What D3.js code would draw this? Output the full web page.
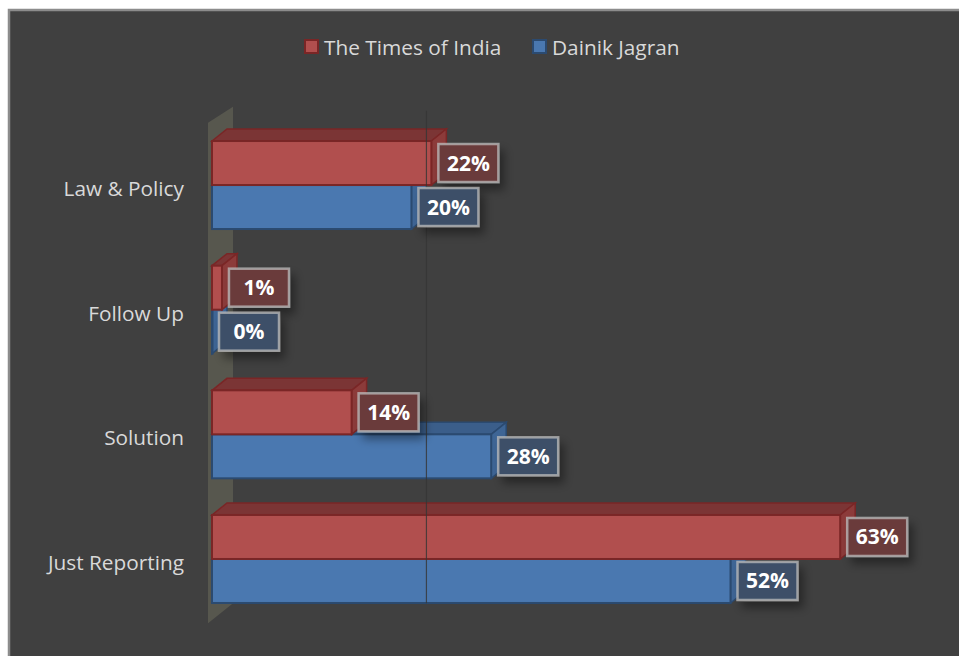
<head>
    <meta charset="utf-8">
    <script src="https://d3js.org/d3.v7.min.js"></script>
    <style>
        body { margin: 0; background: #fff; }
        svg { display: block; }
    </style>
</head>
<body>
<svg width="959" height="656"></svg>
<script>

    var categories = ["Law & Policy", "Follow Up", "Solution", "Just Reporting"];
    var seriesNames = ["The Times of India", "Dainik Jagran"];
    var timesOfIndia = [22, 1, 14, 63];
    var dainikJagran = [20, 0, 28, 52];
    var gridTicks = [20];

    var series = [
        {name: seriesNames[0], values: timesOfIndia, front: "#b14f4e", top: "#7b3535", side: "#8c3b3a", line: "#7a2626", label: "#6a3b3b"},
        {name: seriesNames[1], values: dainikJagran, front: "#4a78b0", top: "#3b5e8a", side: "#3e6595", line: "#2b4a70", label: "#3d5068"}
    ];

    var svg = d3.select("svg");

    var defs = svg.append("defs");
    defs.append("filter").attr("id", "shadow")
        .attr("x", "-30%").attr("y", "-30%").attr("width", "180%").attr("height", "200%")
        .append("feDropShadow")
        .attr("dx", 5).attr("dy", 7).attr("stdDeviation", 5)
        .attr("flood-color", "#000").attr("flood-opacity", 0.4);

    // frame
    svg.append("rect")
        .attr("x", 9).attr("y", 10).attr("width", 960).attr("height", 660)
        .attr("fill", "#404040").attr("stroke", "#8c8c8c").attr("stroke-width", 2.5);

    var dx = 15, dy = -12;

    var x = d3.scaleLinear().domain([0, 70]).range([212, 910]);

    var y = d3.scaleBand()
        .domain(categories)
        .range([122.7, 621.3])
        .paddingInner(0.294)
        .paddingOuter(0.147);

    var y1 = d3.scaleBand()
        .domain(seriesNames)
        .range([0, y.bandwidth()]);

    // side wall
    var wallTop = y.range()[0] - 16, wallBot = y.range()[1] - 18;
    svg.append("path")
        .attr("d", "M" + (x(0) - 4) + "," + (wallTop + 16) +
            "L" + (x(0) + 21) + "," + wallTop +
            "L" + (x(0) + 21) + "," + wallBot +
            "L" + (x(0) - 4) + "," + (wallBot + 20) + "Z")
        .attr("fill", "#58584f").attr("opacity", 0.95);

    // bars (back series first so the upper bar covers the lower bar's top face)
    series.slice().reverse().forEach(function(s) {
        var g = svg.append("g").attr("class", "bars");
        categories.forEach(function(c, i) {
            var v = s.values[i];
            var x0 = x(0), x1 = x(v);
            var y0 = y(c) + y1(s.name), h = y1.bandwidth();
            var bar = g.append("g");
            // top face
            bar.append("path")
                .attr("d", "M" + x0 + "," + y0 + "L" + (x0 + dx) + "," + (y0 + dy) +
                    "L" + (x1 + dx) + "," + (y0 + dy) + "L" + x1 + "," + y0 + "Z")
                .attr("fill", s.top).attr("stroke", s.line).attr("stroke-width", 1.5);
            // right face
            bar.append("path")
                .attr("d", "M" + x1 + "," + y0 + "L" + (x1 + dx) + "," + (y0 + dy) +
                    "L" + (x1 + dx) + "," + (y0 + dy + h) + "L" + x1 + "," + (y0 + h) + "Z")
                .attr("fill", s.side).attr("stroke", s.line).attr("stroke-width", 1.5);
            // front face
            bar.append("rect")
                .attr("x", x0).attr("y", y0)
                .attr("width", Math.max(x1 - x0, 0.5)).attr("height", h)
                .attr("fill", s.front).attr("stroke", s.line).attr("stroke-width", 2);
        });
    });

    // gridline on the back plane
    svg.selectAll(".grid")
        .data(gridTicks)
        .enter().append("line")
        .attr("class", "grid")
        .attr("x1", d => x(d) + dx).attr("x2", d => x(d) + dx)
        .attr("y1", wallTop + 4).attr("y2", wallBot)
        .attr("stroke", "#353535").attr("stroke-width", 1.2).attr("opacity", 0.8);

    // data labels
    series.forEach(function(s) {
        categories.forEach(function(c, i) {
            var v = s.values[i];
            var cy = y(c) + y1(s.name) + y1.bandwidth() / 2;
            var lx = x(v) + 7;
            var lab = svg.append("g");
            lab.append("rect")
                .attr("x", lx).attr("y", cy - 19)
                .attr("width", 60).attr("height", 38)
                .attr("fill", s.label)
                .attr("stroke", "#bdbdbd").attr("stroke-width", 2.5).attr("stroke-opacity", 0.75)
                .attr("filter", "url(#shadow)");
            lab.append("text")
                .attr("x", lx + 30).attr("y", cy + 7.5)
                .attr("text-anchor", "middle")
                .attr("font-family", "Open Sans, Noto Sans, sans-serif")
                .attr("font-weight", "bold").attr("font-size", 21)
                .attr("fill", "#fff")
                .text(v + "%");
        });
    });

    // category labels
    svg.selectAll(".cat")
        .data(categories)
        .enter().append("text")
        .attr("class", "cat")
        .attr("x", 184)
        .attr("y", d => y(d) + y.bandwidth() / 2 + 11)
        .attr("text-anchor", "end")
        .attr("font-family", "Open Sans, Noto Sans, sans-serif")
        .attr("font-size", 20.8)
        .attr("fill", "#d9d9d9")
        .text(d => d);

    // legend
    var legendX = [305, 533];
    series.forEach(function(s, i) {
        var lg = svg.append("g").attr("transform", "translate(" + legendX[i] + ",40)");
        lg.append("rect")
            .attr("width", 13).attr("height", 13)
            .attr("fill", s.front).attr("stroke", s.line).attr("stroke-width", 2);
        lg.append("text")
            .attr("x", 19).attr("y", 15)
            .attr("font-family", "Open Sans, Noto Sans, sans-serif")
            .attr("font-size", 20.8)
            .attr("fill", "#d9d9d9")
            .text(s.name);
    });

</script>
</body>
